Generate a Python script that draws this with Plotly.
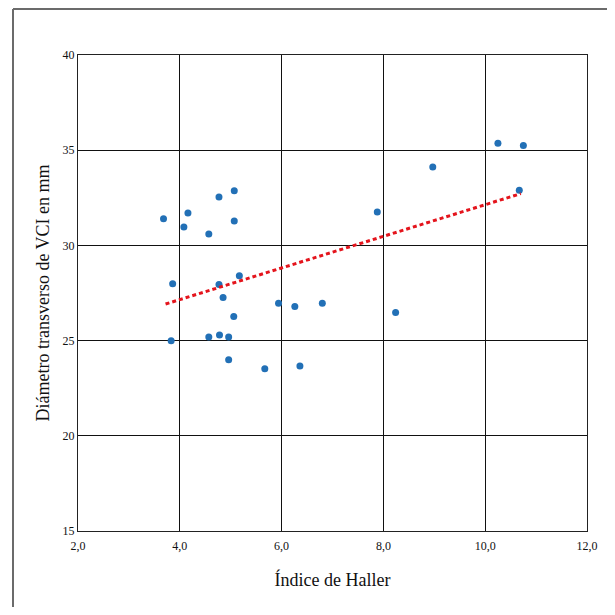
import plotly.graph_objects as go

# Scatter data: Índice de Haller vs Diámetro transverso de VCI (mm)
haller = [3.68, 4.16, 4.08, 4.57, 4.77, 5.07, 5.07, 3.86, 3.83, 4.77,
          4.85, 5.17, 5.06, 4.57, 4.78, 4.96, 4.96, 5.67, 6.36, 5.94,
          6.26, 6.80, 7.88, 8.24, 8.97, 10.25, 10.75, 10.67]
vci = [31.40, 31.70, 30.96, 30.60, 32.54, 32.87, 31.28, 27.98, 24.99, 27.95,
       27.27, 28.41, 26.27, 25.19, 25.30, 25.19, 24.00, 23.52, 23.66, 26.96,
       26.79, 26.96, 31.75, 26.47, 34.12, 35.37, 35.25, 32.89]

# Trend line endpoints
trend_x = [3.72, 10.70]
trend_y = [26.92, 32.72]

x_ticks = [2, 4, 6, 8, 10, 12]
x_tick_labels = ["2,0", "4,0", "6,0", "8,0", "10,0", "12,0"]
y_ticks = [15, 20, 25, 30, 35, 40]

FONT = "Liberation Serif, Times New Roman, serif"

# The page body has an 8px margin, so the figure is placed 8px up/left.
# Width reaches the window's right edge; height stays inside the window
# (the body's bottom margin would otherwise cause a scrollbar).
OFF = 8
FW = 615 - OFF
FH = 615 - 2 * OFF

fig = go.Figure()
fig.add_trace(go.Scatter(
    x=haller, y=vci, mode="markers",
    marker=dict(color="#2270b6", size=7, line=dict(width=0)),
    showlegend=False, hoverinfo="x+y"))
fig.add_trace(go.Scatter(
    x=trend_x, y=trend_y, mode="lines",
    line=dict(color="#e4141c", width=3, dash="4px,3px"),
    showlegend=False, hoverinfo="skip"))

# plot area in figure pixels
L, R, T, B = 78 - OFF, 587 - OFF, 55 - OFF, 531 - OFF
W = R - L
H = B - T

def fx(p):  # figure pixel -> paper x
    return (p - L) / W

def fy(p):  # figure pixel -> paper y
    return (B - p) / H

frame = dict(color="#6b6b6b", width=2)
# outer frame: top and left sides (right/bottom are cut off in the reference)
fig.add_shape(type="line", xref="paper", yref="paper",
              x0=fx(13 - OFF), x1=fx(FW), y0=fy(1), y1=fy(1),
              line=frame, layer="below")
fig.add_shape(type="line", xref="paper", yref="paper",
              x0=fx(13 - OFF), x1=fx(13 - OFF), y0=fy(1), y1=fy(FH),
              line=frame, layer="below")

fig.update_xaxes(
    range=[2, 12], tickvals=x_ticks, ticktext=x_tick_labels,
    showgrid=True, gridcolor="#111111", gridwidth=1,
    showline=True, linecolor="#222222", linewidth=1, mirror=True,
    zeroline=False, ticks="", ticklen=0, ticklabelstandoff=4,
    tickfont=dict(family=FONT, size=12, color="#111111"),
    title=dict(text="Índice de Haller", font=dict(family=FONT, size=18, color="#111111"),
               standoff=20),
)
fig.update_yaxes(
    range=[15, 40], tickvals=y_ticks,
    showgrid=True, gridcolor="#111111", gridwidth=1,
    showline=True, linecolor="#222222", linewidth=1, mirror=True,
    zeroline=False, ticks="", ticklen=0,
    tickfont=dict(family=FONT, size=12, color="#111111"),
    title=dict(text="Diámetro transverso de VCI en mm",
               font=dict(family=FONT, size=18, color="#111111"), standoff=8),
)

fig.update_layout(
    width=FW, height=FH,
    margin=dict(l=L, r=FW - R, t=T, b=FH - B, autoexpand=False),
    paper_bgcolor="white", plot_bgcolor="white",
    font=dict(family=FONT, color="#111111"),
)

fig.write_html("out.html")
